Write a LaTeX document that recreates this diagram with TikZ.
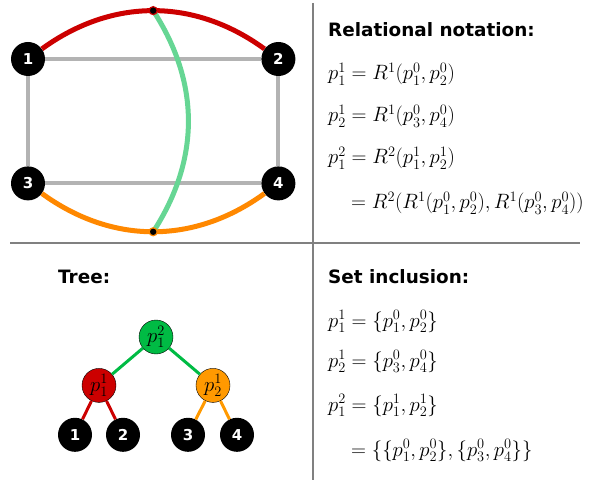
\documentclass[tikz,border=0pt]{standalone}
\usepackage{amsmath}
\usepackage{fontspec}
\newfontfamily\headfont{DejaVu Sans}
\usetikzlibrary{positioning}
\definecolor{arcred}{RGB}{204,0,0}
\definecolor{arcorange}{RGB}{255,136,0}
\definecolor{arcgreen}{RGB}{102,214,148}
\definecolor{treegreen}{RGB}{0,187,68}
\definecolor{treeorange}{RGB}{255,153,0}
\definecolor{edgegray}{RGB}{179,179,179}
\definecolor{rulegray}{RGB}{128,128,128}

\begin{document}
\begin{tikzpicture}[x=1pt, y=1pt,
  leaf/.style={circle, fill=black, minimum size=34pt, inner sep=0pt,
               text=white, font=\headfont\bfseries\fontsize{15}{15}\selectfont},
  pnode/.style={circle, draw=black, thin, minimum size=34pt, inner sep=0pt,
                font=\fontsize{20}{20}\selectfont},
  head/.style={anchor=base west, inner sep=0pt, font=\headfont\bfseries\fontsize{18.4}{22}\selectfont},
  eqn/.style={anchor=base west, inner sep=0pt, font=\fontsize{21}{25}\selectfont},
  side/.style={edgegray, line width=4pt},
  arc/.style={line width=5pt},
  branch/.style={line width=3pt},
  tdot/.style={circle, fill=black, line width=1.2pt, minimum size=8pt, inner sep=0pt},
  rule/.style={rulegray, line width=1.5pt},
]
  \useasboundingbox (0,0) rectangle (589,480);

  % the graph
  \node[leaf] (n1) at (28,421) {1};
  \node[leaf, right=216pt of n1] (n2) {2};
  \node[leaf, below=90pt of n1] (n3) {3};
  \node[leaf, right=216pt of n3] (n4) {4};

  \foreach \from/\to in {n1/n2, n2/n4, n4/n3, n3/n1}
    \draw[side] (\from) -- (\to);
  \draw[arc, arcred] (n1) to[bend left=36] coordinate[pos=0.5] (ptop) (n2);
  \draw[arc, arcorange] (n3) to[bend right=36] coordinate[pos=0.5] (pbot) (n4);
  \draw[arc, arcgreen] (ptop) to[bend left=33] (pbot);
  \node[tdot, draw=arcred] (dtop) at (ptop) {};
  \node[tdot, draw=arcorange] (dbot) at (pbot) {};

  % the tree
  \node[head] (treehead) at (58,197) {Tree:};
  \node[pnode, fill=treegreen] (root) at (156,143) {$p^2_1$};
  \node[pnode, fill=arcred, below=14pt of root, xshift=-57pt] (p11) {$p^1_1$};
  \node[pnode, fill=treeorange, below=14pt of root, xshift=57pt] (p21) {$p^1_2$};
  \node[leaf, below=15pt of p11, xshift=-24pt] (l1) {1};
  \node[leaf, below=15pt of p11, xshift=24pt] (l2) {2};
  \node[leaf, below=15pt of p21, xshift=-25pt] (l3) {3};
  \node[leaf, below=15pt of p21, xshift=24pt] (l4) {4};

  \foreach \from/\to in {root/p11, root/p21}
    \draw[branch, treegreen] (\from) -- (\to);
  \foreach \from/\to in {p11/l1, p11/l2}
    \draw[branch, arcred] (\from) -- (\to);
  \foreach \from/\to in {p21/l3, p21/l4}
    \draw[branch, treeorange] (\from) -- (\to);

  % relational notation
  \node[head] (relhead) at (328,443) {Relational notation:};
  \node[eqn] (rel1) at (328,400) {$p^1_1 = R^1(p^0_1, p^0_2)$};
  \node[eqn] (rel2) at (328,358) {$p^1_2 = R^1(p^0_3, p^0_4)$};
  \node[eqn] (rel3) at (328,316) {$p^2_1 = R^2(p^1_1, p^1_2)$};
  \node[eqn] (rel4) at (351,271) {$= R^2(R^1(p^0_1, p^0_2), R^1(p^0_3, p^0_4))$};

  % set inclusion
  \node[head] (sethead) at (328,197) {Set inclusion:};
  \node[eqn] (set1) at (328,153) {$p^1_1 = \{p^0_1, p^0_2\}$};
  \node[eqn] (set2) at (328,113) {$p^1_2 = \{p^0_3, p^0_4\}$};
  \node[eqn] (set3) at (328,69) {$p^2_1 = \{p^1_1, p^1_2\}$};
  \node[eqn] (set4) at (351,24) {$= \{\{p^0_1, p^0_2\}, \{p^0_3, p^0_4\}\}$};

  % separators
  \draw[rule] (313,477) -- (313,0);
  \draw[rule] (10,237) -- (580,237);
\end{tikzpicture}
\end{document}
